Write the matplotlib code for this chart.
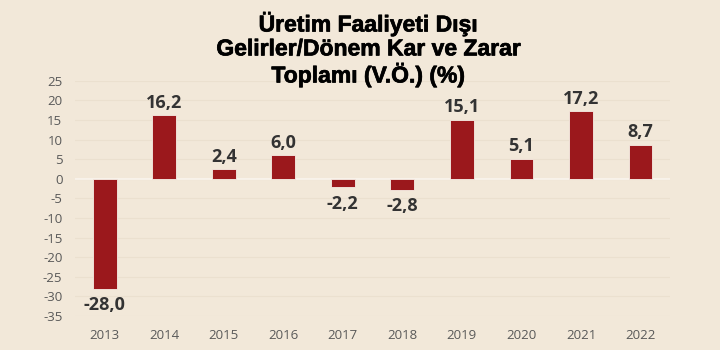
import matplotlib.pyplot as plt
import matplotlib.patheffects as pe

years = ["2013", "2014", "2015", "2016", "2017", "2018", "2019", "2020", "2021", "2022"]
values = [-28.0, 16.2, 2.4, 6.0, -2.2, -2.8, 15.1, 5.1, 17.2, 8.7]
yticks = [25, 20, 15, 10, 5, 0, -5, -10, -15, -20, -25, -30, -35]

bg = "#f2e8d9"
bar_color = "#9b181c"

fig = plt.figure(figsize=(7.2, 3.5), dpi=100, facecolor=bg)
ax = fig.add_axes([0.104, 0.097, 0.827, 0.672], facecolor=bg)

x = range(len(years))
ax.bar(x, values, width=0.4, color=bar_color, edgecolor="#f7efe6", linewidth=0.6, zorder=3)

for xi, v in zip(x, values):
    label = f"{v:.1f}".replace(".", ",")
    off = 0.9 if v >= 0 else -1.9
    ax.text(xi, v + off, label, ha="center", va="bottom" if v >= 0 else "top",
            fontsize=13, fontweight="bold", color="#333333", family=["Open Sans", "DejaVu Sans"])

ax.set_xlim(-0.5, len(years) - 0.5)
ax.set_ylim(-35, 25)
ax.set_yticks(yticks)
ax.set_yticklabels([str(t) for t in yticks])
ax.set_xticks(list(x))
ax.set_xticklabels(years)
for lab in ax.get_xticklabels() + ax.get_yticklabels():
    lab.set_family(["Open Sans", "DejaVu Sans"])
    lab.set_fontsize(9.5)
    lab.set_color("#595959")
ax.tick_params(length=0)
ax.tick_params(axis="x", pad=9)
ax.tick_params(axis="y", pad=9)

ax.grid(axis="y", color="#ebe0cf", linewidth=0.8, zorder=0)
ax.axhline(0, color="#faf5ee", linewidth=1.2, zorder=2)
for s in ax.spines.values():
    s.set_visible(False)

fig.text(0.511, 0.97, "Üretim Faaliyeti Dışı\nGelirler/Dönem Kar ve Zarar\nToplamı (V.Ö.) (%)",
         ha="center", va="top", fontsize=16.5, fontweight="bold", color="black",
         linespacing=1.05, family=["Liberation Sans", "DejaVu Sans"],
         path_effects=[pe.withStroke(linewidth=0.5, foreground="black")])

plt.savefig("out.png", facecolor=bg)
